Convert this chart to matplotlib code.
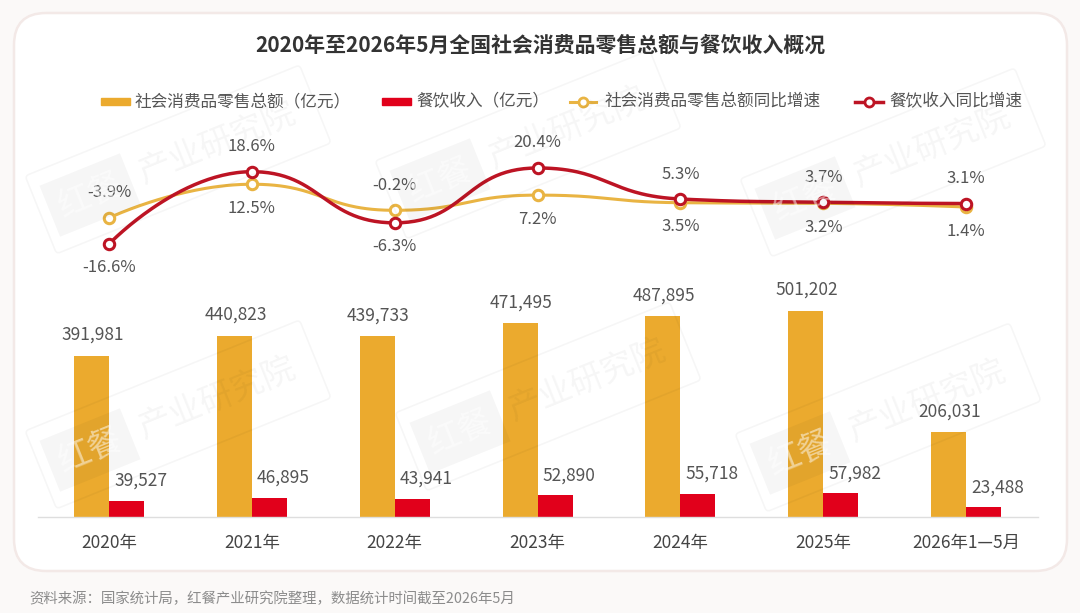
import numpy as np
import matplotlib
matplotlib.use('Agg')
import matplotlib.pyplot as plt
from matplotlib.patches import FancyBboxPatch, Rectangle
from matplotlib.transforms import Affine2D

plt.rcParams['font.family'] = ['Noto Sans CJK SC', 'DejaVu Sans']

# ---------------- data ----------------
categories = ['2020年', '2021年', '2022年', '2023年', '2024年', '2025年', '2026年1—5月']
retail_total = [391981, 440823, 439733, 471495, 487895, 501202, 206031]
catering_income = [39527, 46895, 43941, 52890, 55718, 57982, 23488]
retail_growth = [-3.9, 12.5, -0.2, 7.2, 3.5, 3.2, 1.4]
catering_growth = [-16.6, 18.6, -6.3, 20.4, 5.3, 3.7, 3.1]

title = '2020年至2026年5月全国社会消费品零售总额与餐饮收入概况'
legend_labels = ['社会消费品零售总额（亿元）', '餐饮收入（亿元）',
                 '社会消费品零售总额同比增速', '餐饮收入同比增速']
source = '资料来源：国家统计局，红餐产业研究院整理，数据统计时间截至2026年5月'
wm_a, wm_b = '红餐', '产业研究院'

# ---------------- style ----------------
C_YBAR = '#ebaa2e'
C_RBAR = '#e1001b'
C_YLINE = '#e9b443'
C_RLINE = '#bd1424'
C_TXT = '#555555'

W, H, DPI = 1080, 613, 100
fig = plt.figure(figsize=(W / DPI, H / DPI), dpi=DPI)
fig.patch.set_facecolor('#fbf9f8')

def fx(px):
    return px / W

def fy(py):
    return 1 - py / H

PT = 72 / DPI  # points per pixel

# background axes (pixel coords, y down)
bg = fig.add_axes([0, 0, 1, 1], zorder=0)
bg.set_xlim(0, W); bg.set_ylim(H, 0); bg.axis('off')
bg.add_patch(FancyBboxPatch((14, 13), 1053, 558,
                            boxstyle='round,pad=0,rounding_size=32',
                            fc='white', ec='#f3e9e7', lw=1.8))

# ---------------- bar axes ----------------
x_left, x_right = 37.6, 1037.6
bar_top_px, base_px = 290, 517
px_per_unit = 0.000411
axb = fig.add_axes([fx(x_left), fy(base_px), (x_right - x_left) / W,
                    (base_px - bar_top_px) / H], zorder=1)
axb.patch.set_alpha(0)
x = np.arange(len(categories))
bw = 0.245
axb.bar(x - bw / 2, retail_total, width=bw, color=C_YBAR, zorder=2)
axb.bar(x + bw / 2, catering_income, width=bw, color=C_RBAR, zorder=2)
axb.set_xlim(-0.5, 6.5)
axb.set_ylim(0, (base_px - bar_top_px) / px_per_unit)
for s in ['top', 'right', 'left']:
    axb.spines[s].set_visible(False)
axb.spines['bottom'].set_color('#dedede')
axb.spines['bottom'].set_linewidth(1.0)
axb.set_yticks([])
axb.set_xticks(x)
axb.set_xticklabels(categories, fontsize=12.5, color='#444444')
axb.tick_params(axis='x', length=0, pad=12)

for i in range(len(categories)):
    axb.annotate(f'{retail_total[i]:,}', xy=(x[i] - bw / 2, retail_total[i]),
                 xytext=(1 * PT, 21 * PT), textcoords='offset points',
                 ha='center', va='center', fontsize=12.5, color=C_TXT,
                 annotation_clip=False)
    axb.annotate(f'{catering_income[i]:,}', xy=(x[i] + bw / 2, catering_income[i]),
                 xytext=(14 * PT, 20 * PT), textcoords='offset points',
                 ha='center', va='center', fontsize=12.5, color=C_TXT,
                 annotation_clip=False)

# ---------------- line axes ----------------
line_top_px, line_bot_px = 130, 280
zero_px, px_per_pct = 209.9, 2.054
axl = fig.add_axes([fx(x_left), fy(line_bot_px), (x_right - x_left) / W,
                    (line_bot_px - line_top_px) / H], zorder=2)
axl.patch.set_alpha(0)
axl.set_xlim(-0.5, 6.5)
axl.set_ylim((zero_px - line_bot_px) / px_per_pct, (zero_px - line_top_px) / px_per_pct)
axl.axis('off')

cat_px = (x_right - x_left) / 7.0


def smooth_curve(xs, ys, smooth=0.5, n=60):
    """echarts-like smooth line computed in pixel-ish space, returned in data units."""
    P = np.column_stack([np.asarray(xs, float) * cat_px, np.asarray(ys, float) * px_per_pct])
    m = len(P)
    out = [P[0:1]]
    cp0 = P[0].copy()
    for k in range(1, m):
        prev, cur = P[k - 1], P[k]
        if k == m - 1:
            cp1 = cur.copy()
            nxt_cp0 = None
        else:
            nxt = P[k + 1]
            v = nxt - prev
            l0 = np.hypot(*(cur - prev))
            l1 = np.hypot(*(nxt - cur))
            r = l1 / (l0 + l1)
            ncp0 = cur + v * smooth * r
            ncp0 = np.minimum(ncp0, np.maximum(nxt, cur))
            ncp0 = np.maximum(ncp0, np.minimum(nxt, cur))
            v = ncp0 - cur
            cp1 = cur - v * l0 / l1
            cp1 = np.minimum(cp1, np.maximum(prev, cur))
            cp1 = np.maximum(cp1, np.minimum(prev, cur))
            v = cur - cp1
            nxt_cp0 = cur + v * l1 / l0
        t = np.linspace(0, 1, n)[1:, None]
        seg = ((1 - t) ** 3) * prev + 3 * ((1 - t) ** 2) * t * cp0 + 3 * (1 - t) * t ** 2 * cp1 + t ** 3 * cur
        out.append(seg)
        cp0 = nxt_cp0
    Q = np.vstack(out)
    return Q[:, 0] / cat_px, Q[:, 1] / px_per_pct


for vals, col, lw in [(retail_growth, C_YLINE, 2.2), (catering_growth, C_RLINE, 2.5)]:
    sx, sy = smooth_curve(x, vals)
    axl.plot(sx, sy, color=col, lw=lw, solid_capstyle='round', zorder=3)
    axl.plot(x, vals, ls='none', marker='o', ms=7.5, mfc='white', mec=col, mew=2.2, zorder=4)

for i in range(len(categories)):
    red_high = catering_growth[i] > retail_growth[i]
    for v, high in [(retail_growth[i], not red_high), (catering_growth[i], red_high)]:
        dy = 25 if high else -24
        axl.annotate(f'{v:.1f}%', xy=(x[i], v), xytext=(0, dy * PT),
                     textcoords='offset points', ha='center', va='center',
                     fontsize=12, color=C_TXT, annotation_clip=False)

# ---------------- foreground: title, legend, source, watermark ----------------
fg = fig.add_axes([0, 0, 1, 1], zorder=5)
fg.set_xlim(0, W); fg.set_ylim(H, 0); fg.axis('off')
fg.patch.set_alpha(0)

fg.text(540, 45, title, ha='center', va='center', fontsize=15,
        fontweight='bold', color='#333333')

ly = 101.5
fg.add_patch(Rectangle((101, ly - 3.5), 29, 7, color=C_YBAR))
fg.text(135, ly, legend_labels[0], va='center', ha='left', fontsize=12, color=C_TXT)
fg.add_patch(Rectangle((382, ly - 3.5), 29, 7, color=C_RBAR))
fg.text(416, ly, legend_labels[1], va='center', ha='left', fontsize=12, color=C_TXT)
fg.plot([570, 596], [ly, ly], color=C_YLINE, lw=2.2)
fg.plot([583], [ly], marker='o', ms=6.5, mfc='white', mec=C_YLINE, mew=2)
fg.text(605, ly, legend_labels[2], va='center', ha='left', fontsize=12, color=C_TXT)
fg.plot([855, 883], [ly, ly], color=C_RLINE, lw=2.5)
fg.plot([869], [ly], marker='o', ms=6.5, mfc='white', mec=C_RLINE, mew=2)
fg.text(889, ly, legend_labels[3], va='center', ha='left', fontsize=12, color=C_TXT)

fg.text(29, 599, source, ha='left', va='center', fontsize=10.4, color='#8c8c8c')

# watermarks
theta = 22.0
d = np.array([np.cos(np.radians(theta)), -np.sin(np.radians(theta))])
wm_centers = [(90, 195), (440, 180), (805, 198), (90, 450), (460, 432), (800, 453)]
for cx, cy in wm_centers:
    c0 = np.array([cx, cy], float)
    fg.text(c0[0], c0[1], wm_a, rotation=theta, rotation_mode='anchor',
            ha='center', va='center', fontsize=24, color=(1, 1, 1, 0.5),
            bbox=dict(boxstyle='square,pad=0.3', fc=(0, 0, 0, 0.035), ec='none'))
    c1 = c0 + d * 138
    fg.text(c1[0], c1[1], wm_b, rotation=theta, rotation_mode='anchor',
            ha='center', va='center', fontsize=24, color=(0, 0, 0, 0.04))
    cc = c0 + d * 95
    box = FancyBboxPatch((cc[0] - 148, cc[1] - 42), 296, 84,
                         boxstyle='round,pad=0,rounding_size=4',
                         fc='none', ec=(0, 0, 0, 0.035), lw=1.2)
    box.set_transform(Affine2D().rotate_deg_around(cc[0], cc[1], -theta) + fg.transData)
    fg.add_patch(box)

fig.savefig('out.png', dpi=DPI, facecolor=fig.get_facecolor())
